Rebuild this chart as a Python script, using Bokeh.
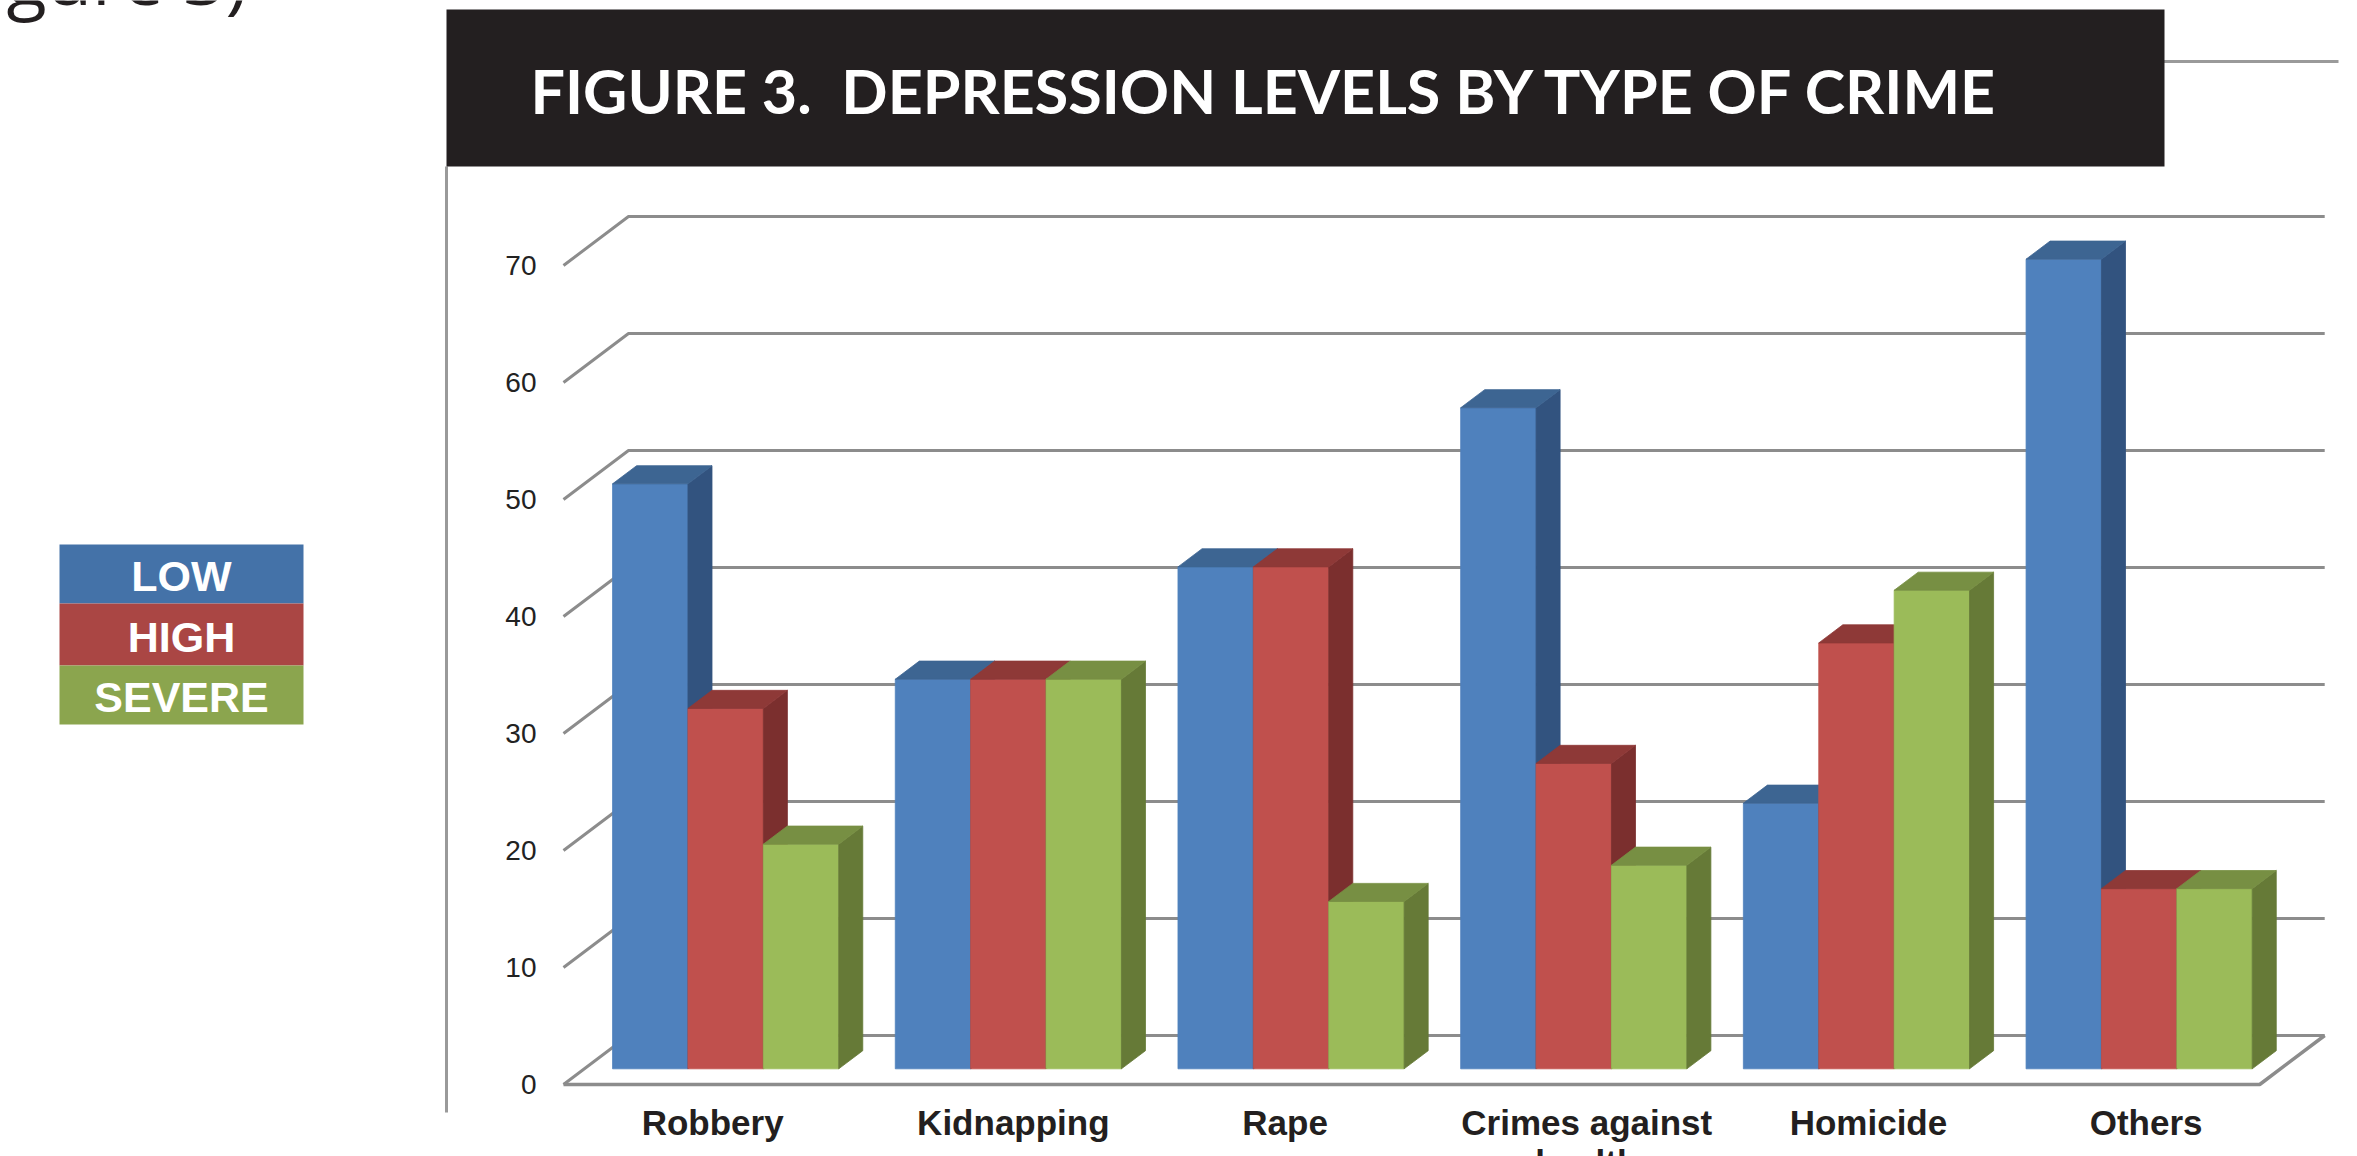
from bokeh.plotting import figure
from bokeh.models import Range1d, Label
from bokeh.core.properties import value
from bokeh.embed import file_html
from bokeh.resources import INLINE

# ---------------- data ----------------
categories = ["Robbery", "Kidnapping", "Rape", "Crimes against\nhealth", "Homicide", "Others"]
series_names = ["LOW", "HIGH", "SEVERE"]
low = [50.0, 33.3, 42.9, 56.5, 22.7, 69.2]
high = [30.8, 33.3, 42.9, 26.1, 36.4, 15.4]
severe = [19.2, 33.3, 14.3, 17.4, 40.9, 15.4]
y_ticks = [0, 10, 20, 30, 40, 50, 60, 70]
y_tick_labels = ["0", "10", "20", "30", "40", "50", "60", "70"]
title_text = "FIGURE 3.\u00a0 DEPRESSION LEVELS BY TYPE OF CRIME"
corner_text = "gure 3)"

# ---------------- styling / layout ----------------
W, H = 2357, 1156
FX0, FY0 = 563.0, 1084.0        # front-left corner of floor (px)
CAT_W = 282.7                    # px per category
PX_PER_UNIT = 11.70              # px per value unit
DEPTH_DX, DEPTH_DY = 65.0, 49.0  # full depth offset of the 3D box (px)
BAR_F0, BAR_DEPTH = 0.32, 0.37   # bar front plane & depth (fraction of box depth)
GROUP_FILL = 0.8
LABEL_Y, LABEL_LINE = 1122.0, 40.0
LABEL_NUDGE_PX = [-13, 5, -6, 13, 12, 7]   # perspective offsets of the category labels

front_cols = ["#4F81BD", "#C0504D", "#9BBB59"]
side_cols = ["#32537F", "#7B2F2E", "#667A37"]
top_cols = ["#3D6592", "#8E3937", "#778F43"]
legend_cols = ["#4472A8", "#AA4644", "#8BA54E"]
grid_col = "#8c8c8c"

X_DX = DEPTH_DX / CAT_W
Y_DY = DEPTH_DY / PX_PER_UNIT


def px2x(px):
    return (px - FX0) / CAT_W


def py2y(py):
    return (FY0 - py) / PX_PER_UNIT


p = figure(width=W, height=H, output_backend="svg", toolbar_location=None,
           x_range=Range1d(px2x(0), px2x(W)), y_range=Range1d(py2y(H), py2y(0)),
           min_border=0)
p.axis.visible = False
p.grid.visible = False
p.outline_line_color = None
p.background_fill_color = "white"
p.border_fill_color = "white"

n = len(categories)

# ---------------- walls: gridlines ----------------
gx, gy = [], []
for t in y_ticks:
    gx.append([0, X_DX, n + X_DX])
    gy.append([t, t + Y_DY, t + Y_DY])
p.multi_line(gx, gy, line_color=grid_col, line_width=3)
# floor front & right edges
p.line([0, n, n + X_DX], [0, 0, Y_DY], line_color=grid_col, line_width=3.5)

# tick labels on the front plane
p.text(x=[px2x(536)] * len(y_ticks), y=y_ticks, text=y_tick_labels,
       text_font=value("Liberation Sans"), text_font_size="28px",
       text_color="#222222", text_align="right", text_baseline="middle")

# ---------------- 3D bars ----------------
xs, ys, cols = [], [], []
bw = GROUP_FILL / 3
bdx, bdy = BAR_DEPTH * X_DX, BAR_DEPTH * Y_DY
for i in range(n):
    vals = [low[i], high[i], severe[i]]
    for j, v in enumerate(vals):
        x0 = i + (1 - GROUP_FILL) / 2 + j * bw + BAR_F0 * X_DX
        x1 = x0 + bw
        yb = BAR_F0 * Y_DY
        yt = v + yb
        # front
        xs.append([x0, x1, x1, x0]); ys.append([yb, yb, yt, yt]); cols.append(front_cols[j])
        # side
        xs.append([x1, x1 + bdx, x1 + bdx, x1]); ys.append([yb, yb + bdy, yt + bdy, yt]); cols.append(side_cols[j])
        # top
        xs.append([x0, x1, x1 + bdx, x0 + bdx]); ys.append([yt, yt, yt + bdy, yt + bdy]); cols.append(top_cols[j])
p.patches(xs, ys, fill_color=cols, line_color=cols, line_width=0.8)

# ---------------- category labels ----------------
lab_x, lab_y, lab_t = [], [], []
for i, c in enumerate(categories):
    for k, line in enumerate(c.split("\n")):
        lab_x.append(i + 0.5 + BAR_F0 * X_DX + LABEL_NUDGE_PX[i] / CAT_W)
        lab_y.append(py2y(LABEL_Y + LABEL_LINE * k))
        lab_t.append(line)
p.text(x=lab_x, y=lab_y, text=lab_t, text_font=value("Liberation Sans"),
       text_font_style="bold", text_font_size="35px", text_color="#231F20",
       text_align="center", text_baseline="middle")

# ---------------- chart frame lines ----------------
p.line([px2x(446), px2x(446)], [py2y(166), py2y(1112)], line_color="#9a9a9a", line_width=3)
p.line([px2x(2160), px2x(2338)], [py2y(61), py2y(61)], line_color="#9a9a9a", line_width=3)

# ---------------- title box ----------------
p.quad(left=[px2x(446)], right=[px2x(2164)], top=[py2y(9)], bottom=[py2y(166)],
       fill_color="#231F20", line_color=None)
p.text(x=[px2x(530)], y=[py2y(90)], text=[title_text], text_font=value("Lato"),
       text_font_style="bold", text_font_size="61px", text_color="white",
       text_align="left", text_baseline="middle")

# ---------------- corner text (cut off at top) ----------------
p.add_layout(Label(x=px2x(6), y=py2y(-24), text=corner_text, text_font="Open Sans",
                   text_font_size="74px", text_color="#231F20", text_align="left",
                   text_baseline="middle"))

# ---------------- legend ----------------
leg_top = [544, 603, 665]
leg_bot = [603, 665, 724]
p.quad(left=[px2x(59)] * 3, right=[px2x(303)] * 3,
       top=[py2y(t) for t in leg_top], bottom=[py2y(b) for b in leg_bot],
       fill_color=legend_cols, line_color=None)
p.text(x=[px2x(181)] * 3, y=[py2y((t + b) / 2 + 2) for t, b in zip(leg_top, leg_bot)],
       text=series_names, text_font=value("Liberation Sans"), text_font_style="bold",
       text_font_size="43px", text_color="white", text_align="center",
       text_baseline="middle")

open("out.html", "w").write(file_html(p, INLINE))
